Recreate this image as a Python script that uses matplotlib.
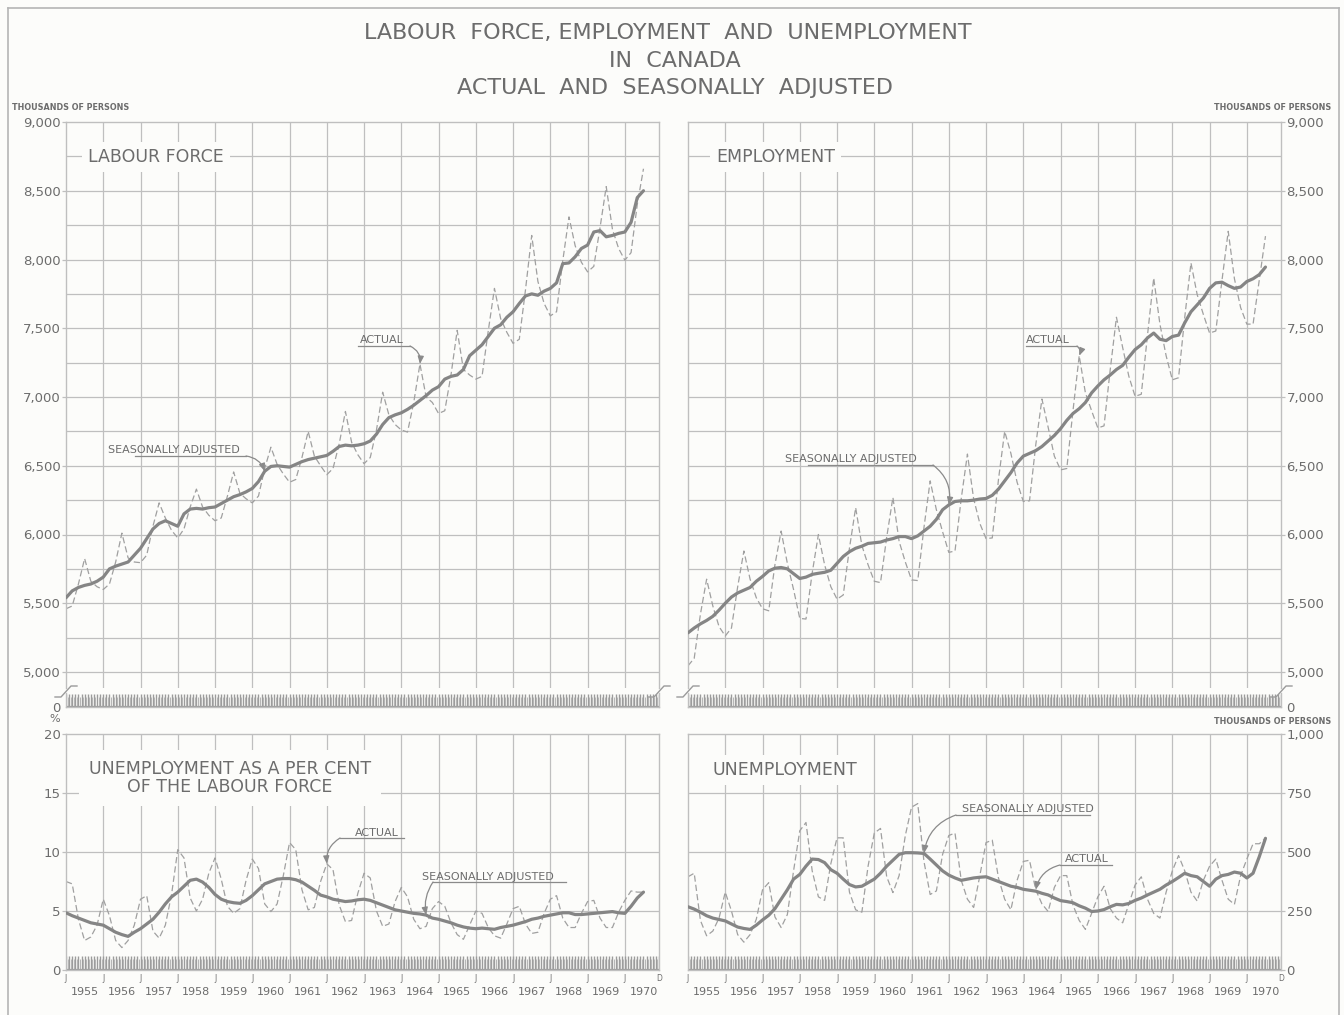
import numpy as np
import matplotlib
matplotlib.use("Agg")
import matplotlib.pyplot as plt
from matplotlib.lines import Line2D

W, H = 1344, 1015
BG = "#fcfcfa"
INK = "#6c6c6c"
GRID = "#bfbfbf"
SA_COLOR = "#858585"
ACT_COLOR = "#a0a0a0"
LEADER = "#8a8a8a"
RULER = "#9c9c9c"

plt.rcParams["font.family"] = ["DejaVu Sans"]

# Observations every second month (Jan, Mar, May, Jul, Sep, Nov), Jan 1955 to Jul 1970
first_year = 1955
per_year = 6

# Labour force, thousands of persons
lf_actual = [
    5460, 5480, 5640, 5825, 5660, 5620,
    5600, 5640, 5800, 6010, 5830, 5800,
    5795, 5850, 6060, 6230, 6120, 6030,
    5975, 6040, 6200, 6330, 6200, 6140,
    6100, 6120, 6280, 6455, 6300, 6260,
    6230, 6280, 6480, 6635, 6510, 6440,
    6380, 6400, 6560, 6750, 6570, 6500,
    6435, 6480, 6660, 6895, 6670, 6580,
    6515, 6560, 6760, 7035, 6870, 6800,
    6760, 6745, 6960, 7240, 7000, 6960,
    6880, 6900, 7160, 7485, 7200, 7160,
    7130, 7150, 7480, 7790, 7570, 7470,
    7390, 7420, 7780, 8175, 7840, 7680,
    7590, 7620, 7990, 8310, 8100, 7980,
    7910, 7950, 8230, 8530, 8220, 8080,
    7995, 8050, 8400, 8660,
]
lf_sa = [
    5540, 5590, 5615, 5630, 5640, 5660,
    5690, 5750, 5770, 5785, 5800, 5850,
    5900, 5970, 6040, 6080, 6100, 6080,
    6060, 6150, 6185, 6190, 6185, 6195,
    6200, 6225, 6250, 6275, 6290, 6310,
    6335, 6385, 6460, 6495, 6500, 6495,
    6490, 6510, 6530, 6545, 6555, 6565,
    6575, 6605, 6640, 6650, 6645, 6650,
    6660, 6680, 6730, 6800, 6850, 6870,
    6885, 6910, 6940, 6975, 7010, 7050,
    7075, 7130, 7150, 7160, 7200, 7300,
    7340, 7380, 7440, 7500, 7525, 7580,
    7620, 7680, 7735, 7750, 7740, 7770,
    7790, 7830, 7970, 7975, 8020, 8080,
    8105, 8200, 8210, 8165, 8175, 8190,
    8200, 8270, 8450, 8500,
]

# Employment, thousands of persons
emp_actual = [
    5045, 5100, 5420, 5675, 5480, 5330,
    5262, 5320, 5620, 5880, 5675, 5540,
    5460, 5445, 5780, 6025, 5790, 5600,
    5390, 5385, 5720, 6000, 5780, 5620,
    5530, 5560, 5900, 6195, 5920, 5780,
    5660, 5650, 5980, 6270, 5950, 5800,
    5670, 5665, 6050, 6390, 6180, 6020,
    5870, 5880, 6260, 6585, 6260, 6080,
    5970, 5975, 6400, 6750, 6590, 6380,
    6240, 6245, 6650, 6985, 6780, 6570,
    6470, 6480, 6900, 7300, 7030, 6900,
    6775, 6790, 7200, 7580, 7360, 7150,
    7005, 7020, 7450, 7865, 7530, 7300,
    7125, 7140, 7580, 7975, 7745, 7600,
    7465, 7480, 7850, 8205, 7860, 7650,
    7530, 7530, 7850, 8170,
]
emp_sa = [
    5285, 5320, 5350, 5375, 5405, 5450,
    5500, 5545, 5575, 5595, 5615, 5660,
    5695, 5735, 5755, 5760, 5750, 5715,
    5680, 5690, 5710, 5718, 5725, 5740,
    5790, 5840, 5875, 5900, 5915, 5935,
    5940, 5945, 5960, 5970, 5985, 5985,
    5970, 5990, 6025, 6060, 6110, 6180,
    6215, 6240, 6245, 6245, 6250, 6258,
    6262, 6285, 6330, 6390, 6450, 6520,
    6570, 6590, 6610, 6640, 6680, 6720,
    6770, 6830, 6880, 6915, 6960, 7030,
    7080, 7125, 7160, 7200, 7230, 7290,
    7345, 7380, 7430, 7465, 7420, 7410,
    7440, 7450, 7540, 7620, 7670, 7720,
    7790, 7830, 7835, 7810, 7790, 7800,
    7840, 7860, 7890, 7945,
]

# Unemployment as a per cent of the labour force
rate_actual = [
    7.5, 7.3, 4.3, 2.5, 2.8, 3.8,
    6.0, 4.6, 2.5, 1.9, 2.5, 3.8,
    6.0, 6.3, 3.3, 2.7, 3.8, 6.4,
    10.2, 9.5, 6.1, 5.0, 6.0, 8.2,
    9.5, 7.7, 5.4, 4.8, 5.2, 7.6,
    9.4, 8.6, 5.6, 4.95, 5.6, 8.0,
    10.8, 10.2, 6.8, 5.1, 5.3, 7.5,
    9.0, 8.5, 5.5, 4.1, 4.2, 6.5,
    8.2, 7.8, 5.0, 3.7, 3.9, 5.8,
    7.0, 6.2, 4.3, 3.5, 3.7, 5.2,
    5.8, 5.4, 4.0, 3.0, 2.6, 3.8,
    5.0, 4.8, 3.6, 2.9, 2.7, 3.9,
    5.2, 5.4, 3.9, 3.1, 3.2, 4.8,
    6.0, 6.3, 4.4, 3.6, 3.6, 4.8,
    5.8, 5.9, 4.4, 3.6, 3.6, 4.9,
    5.9, 6.7, 6.6, 6.6,
]
rate_sa = [
    4.85, 4.6, 4.4, 4.2, 4.0, 3.9,
    3.8, 3.5, 3.2, 3.0, 2.85, 3.2,
    3.5, 3.9, 4.3, 4.9, 5.6, 6.2,
    6.6, 7.1, 7.6, 7.7, 7.45, 7.0,
    6.4, 6.0, 5.8, 5.7, 5.65, 5.9,
    6.3, 6.8, 7.3, 7.5, 7.7, 7.75,
    7.75, 7.65, 7.45, 7.1, 6.75, 6.35,
    6.2, 6.0, 5.9, 5.8, 5.85, 5.95,
    6.0, 5.9, 5.7, 5.5, 5.3, 5.1,
    5.0, 4.9, 4.8, 4.75, 4.65, 4.4,
    4.3, 4.15, 4.0, 3.8, 3.65, 3.55,
    3.5, 3.55, 3.5, 3.45, 3.6, 3.7,
    3.8, 3.95, 4.1, 4.3, 4.4, 4.55,
    4.65, 4.75, 4.85, 4.85, 4.7, 4.7,
    4.75, 4.8, 4.85, 4.9, 4.95, 4.85,
    4.8, 5.4, 6.1, 6.6,
]

# Unemployment, thousands of persons
unemp_actual = [
    395, 410, 210, 145, 165, 220,
    330, 250, 150, 118, 150, 215,
    340, 370, 225, 180, 235, 420,
    590, 625, 420, 310, 295, 450,
    560, 560, 330, 255, 245, 440,
    580, 600, 395, 328, 400, 570,
    690, 705, 460, 320, 335, 490,
    570, 580, 380, 300, 265, 400,
    540, 550, 390, 300, 255, 380,
    460, 465, 340, 280, 248, 350,
    400, 400, 275, 210, 172, 240,
    310, 355, 260, 220, 200, 280,
    360, 395, 300, 240, 220, 330,
    420, 485, 420, 330, 292, 380,
    440, 470, 380, 300, 278, 400,
    470, 535, 535, 558,
]
unemp_sa = [
    268, 258, 245, 230, 220, 214,
    208, 195, 182, 176, 172, 190,
    212, 232, 260, 300, 340, 385,
    405, 440, 470, 468, 455, 425,
    410, 385, 362, 352, 355, 370,
    385, 410, 440, 465, 490, 497,
    497, 496, 494, 470, 445, 420,
    402, 390, 380, 385, 390, 393,
    395, 385, 375, 365, 355, 350,
    342, 338, 334, 325, 318, 305,
    294, 290, 285, 272, 262, 248,
    250, 256, 268, 278, 276, 282,
    295, 305, 318, 330, 342, 360,
    375, 392, 410, 400, 395, 375,
    355, 385, 400, 405, 415, 410,
    390, 410, 480, 558,
]

year_labels = [str(y) for y in range(1955, 1971)]
lf_ticks = [5000, 5500, 6000, 6500, 7000, 7500, 8000, 8500, 9000]
rate_ticks = [0, 5, 10, 15, 20]
unemp_ticks = [0, 250, 500, 750, 1000]

t = first_year + np.arange(len(lf_sa)) / per_year
years = np.arange(1955, 1971)
months = 1955 + np.arange(16 * 12) / 12.0
half_months = months + 1 / 24.0
X_LIM = (1955.0, 1970 + 11 / 12)

fig = plt.figure(figsize=(W / 100, H / 100), dpi=100, facecolor=BG)


def rect(x0, y0, x1, y1):
    return [x0 / W, 1 - y1 / H, (x1 - x0) / W, (y1 - y0) / H]


def fpt(x, y):
    return (x / W, 1 - y / H)


def frame(ax, hide=()):
    ax.set_facecolor("none")
    for side, sp in ax.spines.items():
        sp.set_color(GRID)
        sp.set_linewidth(1.0)
        if side in hide:
            sp.set_visible(False)


def y_side(ax, side):
    if side == "right":
        ax.yaxis.tick_right()
    ax.tick_params(axis="y", which="major", length=3, width=0.9, color=GRID,
                   labelsize=9.5, labelcolor=INK, pad=1)
    ax.tick_params(axis="y", which="minor", length=0)


def grid(ax, yvals):
    for yr in years[1:]:
        ax.axvline(yr, color=GRID, lw=0.9, zorder=0)
    for v in yvals:
        ax.axhline(v, color=GRID, lw=0.9, zorder=0)


def ruler(ax, top):
    # monthly ruler along the zero line, with finer half-month marks
    tr = ax.get_xaxis_transform()
    ax.vlines(months, 0, top, transform=tr, color=RULER, lw=1.0, zorder=1)
    ax.vlines(half_months, 0, top * 0.8, transform=tr, color="#b4b4b4", lw=0.7, zorder=1)
    ax.axhline(0, color=RULER, lw=1.6, zorder=1)


def plot_pair(ax, actual, sa):
    ax.plot(t, actual, color=ACT_COLOR, lw=0.9, dashes=(5, 2.5), zorder=2)
    ax.plot(t, sa, color=SA_COLOR, lw=2.3, solid_capstyle="round", zorder=3)


def top_panel(x0, x1, side, actual, sa):
    ax = fig.add_axes(rect(x0, 122, x1, 688))
    ax.set_xlim(X_LIM)
    ax.set_ylim(5000 - 16 * 4000 / 550, 9000)
    frame(ax, hide=("bottom",))
    ax.set_xticks([])
    ax.set_yticks(lf_ticks, [f"{v:,}" for v in lf_ticks])
    y_side(ax, side)
    grid(ax, np.arange(5000, 9000, 250))
    plot_pair(ax, actual, sa)

    # ruler strip below the broken axis
    st = fig.add_axes(rect(x0, 693, x1, 707))
    st.set_xlim(X_LIM)
    st.set_ylim(0, 1)
    frame(st, hide=("top",))
    ruler(st, 0.92)
    st.set_xticks([])
    st.set_yticks([0], ["0"])
    y_side(st, side)
    st.tick_params(axis="y", length=0, pad=4)

    # axis break marks
    for xb in (x0, x1):
        xs = [xb - 11, xb - 5, xb + 5, xb + 11]
        ys = [697, 697, 686, 686]
        fig.add_artist(Line2D([x / W for x in xs], [1 - y / H for y in ys],
                              transform=fig.transFigure, color="#9a9a9a", lw=1.0))
    return ax


def bottom_panel(x0, x1, side, ymax, ticks, labels, actual, sa):
    ax = fig.add_axes(rect(x0, 734, x1, 970))
    ax.set_xlim(X_LIM)
    ax.set_ylim(0, ymax)
    frame(ax)
    ax.set_yticks(ticks, labels)
    y_side(ax, side)
    grid(ax, ticks[1:-1])
    ruler(ax, 14 / 236)
    ax.set_xticks(list(years) + [X_LIM[1]], ["J"] * 16 + ["D"])
    ax.set_xticks(years + 0.5, year_labels, minor=True)
    ax.tick_params(axis="x", which="major", length=0, labelsize=5.5,
                   labelcolor=INK, pad=3)
    ax.tick_params(axis="x", which="minor", length=0, labelsize=8,
                   labelcolor=INK, pad=12)
    plot_pair(ax, actual, sa)
    return ax


ax_lf = top_panel(66, 659, "left", lf_actual, lf_sa)
ax_emp = top_panel(688, 1281, "right", emp_actual, emp_sa)
ax_rate = bottom_panel(66, 659, "left", 20, rate_ticks,
                       [str(v) for v in rate_ticks], rate_actual, rate_sa)
ax_un = bottom_panel(688, 1281, "right", 1000, unemp_ticks,
                     [f"{v:,}" for v in unemp_ticks], unemp_actual, unemp_sa)

# Titles
title_kw = dict(ha="center", va="center", fontsize=16, color=INK)
fig.text(*fpt(668, 33), "LABOUR  FORCE, EMPLOYMENT  AND  UNEMPLOYMENT", **title_kw)
fig.text(*fpt(675, 61), "IN  CANADA", **title_kw)
fig.text(*fpt(675, 88), "ACTUAL  AND  SEASONALLY  ADJUSTED", **title_kw)

unit_kw = dict(fontsize=5.8, fontweight="bold", color=INK, va="center")
fig.text(*fpt(12, 108), "THOUSANDS OF PERSONS", ha="left", **unit_kw)
fig.text(*fpt(1331, 107), "THOUSANDS OF PERSONS", ha="right", **unit_kw)
fig.text(*fpt(1331, 721), "THOUSANDS OF PERSONS", ha="right", **unit_kw)
fig.text(*fpt(55, 719), "%", ha="center", va="center", fontsize=8, color=INK)

box = dict(boxstyle="square,pad=0.35", fc=BG, ec="none")
fig.text(*fpt(88, 157), "LABOUR FORCE", ha="left", va="center",
         fontsize=12.5, color=INK, bbox=box)
fig.text(*fpt(716, 157), "EMPLOYMENT", ha="left", va="center",
         fontsize=12.5, color=INK, bbox=box)
fig.text(*fpt(230, 778), "UNEMPLOYMENT AS A PER CENT\nOF THE LABOUR FORCE",
         ha="center", va="center", fontsize=12.5, color=INK, linespacing=1.05,
         bbox=dict(boxstyle="square,pad=0.55", fc=BG, ec="none"))
fig.text(*fpt(712, 770), "UNEMPLOYMENT", ha="left", va="center",
         fontsize=12.5, color=INK, bbox=box)

# Series callouts: label, underline and curved leader to the line
def callout(ax, label, tx, ty, ux0, ux1, uy, from_right, tip, rad):
    fig.text(*fpt(tx, ty), label, ha="left", va="baseline", fontsize=8, color=INK)
    fig.add_artist(Line2D([ux0 / W, ux1 / W], [1 - uy / H] * 2,
                          transform=fig.transFigure, color=LEADER, lw=0.9))
    sx = ux1 if from_right else ux0
    ax.annotate("", xy=tip, xycoords="data", xytext=fpt(sx, uy),
                textcoords="figure fraction",
                arrowprops=dict(arrowstyle="-|>,head_length=0.45,head_width=0.18",
                                color=LEADER, lw=0.9, shrinkA=0, shrinkB=0,
                                connectionstyle=f"arc3,rad={rad}"))


callout(ax_lf, "ACTUAL", 360, 343, 358, 410, 346, True, (t[57], lf_actual[57]), -0.35)
callout(ax_lf, "SEASONALLY ADJUSTED", 108, 453, 135, 246, 456, True, (t[32], lf_sa[32]), -0.3)
callout(ax_emp, "ACTUAL", 1026, 343, 1026, 1077, 346, True, (t[63], emp_actual[63]), -0.35)
callout(ax_emp, "SEASONALLY ADJUSTED", 785, 462, 808, 933, 465, True, (t[42], emp_sa[42]), -0.3)
callout(ax_rate, "ACTUAL", 355, 836, 340, 404, 838, False, (t[42], rate_actual[42]), 0.3)
callout(ax_rate, "SEASONALLY ADJUSTED", 422, 880, 433, 566, 882, False, (t[58], rate_sa[58]), 0.2)
callout(ax_un, "SEASONALLY ADJUSTED", 962, 812, 956, 1090, 815, False, (t[38], unemp_sa[38]), 0.3)
callout(ax_un, "ACTUAL", 1065, 862, 1060, 1112, 865, False, (t[56], unemp_actual[56]), 0.3)

# Sheet border
for xs, ys in (([8, 8], [8, 1015]), ([8, 1339], [8, 8]), ([1339, 1339], [8, 1015])):
    fig.add_artist(Line2D([x / W for x in xs], [1 - y / H for y in ys],
                          transform=fig.transFigure, color="#b5b5b5", lw=1.2))

fig.savefig("out.png", dpi=100, facecolor=BG)
